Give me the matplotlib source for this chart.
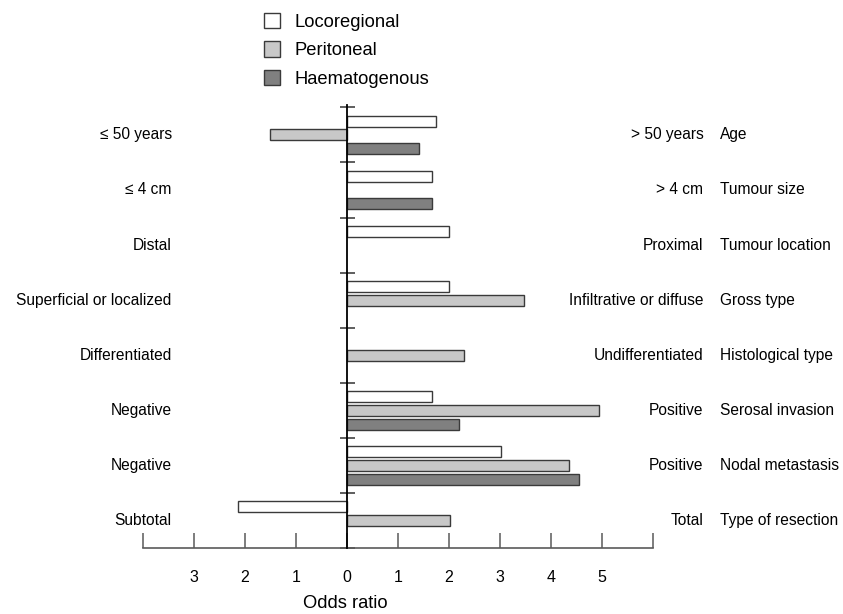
import numpy as np
import matplotlib
matplotlib.use("Agg")
import matplotlib.pyplot as plt
from matplotlib.transforms import blended_transform_factory

plt.rcParams['font.family'] = ['Liberation Sans', 'DejaVu Sans']

# ---- data ----
features = ["Age", "Tumour size", "Tumour location", "Gross type",
            "Histological type", "Serosal invasion", "Nodal metastasis",
            "Type of resection"]
left_labels = ["\u2264 50 years", "\u2264 4 cm", "Distal", "Superficial or localized",
               "Differentiated", "Negative", "Negative", "Subtotal"]
right_labels = ["> 50 years", "> 4 cm", "Proximal", "Infiltrative or diffuse",
                "Undifferentiated", "Positive", "Positive", "Total"]
series_names = ["Locoregional", "Peritoneal", "Haematogenous"]
locoregional = [1.74, 1.67, 2.00, 1.99, None, 1.67, 3.02, -2.14]
peritoneal = [-1.51, None, None, 3.46, 2.29, 4.94, 4.34, 2.02]
haematogenous = [1.41, 1.66, None, None, None, 2.20, 4.54, None]
tick_values = [-4, -3, -2, -1, 0, 1, 2, 3, 4, 5, 6]
tick_labels = ["", "3", "2", "1", "0", "1", "2", "3", "4", "5", ""]

# ---- figure ----
W, H = 843, 614
fig = plt.figure(figsize=(W / 100, H / 100), dpi=100)
x0_px, x1_px = 142.7, 653.3
ytop_px, ybot_px = 105.0, 548.3
grp_px = (548.3 - 107.3) / 8
ytop_data = -(107.3 - ytop_px) / grp_px
ax = fig.add_axes([x0_px / W, 1 - ybot_px / H, (x1_px - x0_px) / W, (ybot_px - ytop_px) / H])
ax.set_xlim(-4, 6)
ax.set_ylim(8, ytop_data)

colors = ["#ffffff", "#c8c8c8", "#808080"]
edge = "#3a3a3a"
offsets = [-0.25, 0.0, 0.25]
bar_h = 0.2
centers = np.arange(len(features)) + 0.5
handles = []
for vals, col, off, name in zip([locoregional, peritoneal, haematogenous], colors, offsets, series_names):
    ys = [c + off for c, v in zip(centers, vals) if v is not None]
    ws = [v for v in vals if v is not None]
    b = ax.barh(ys, ws, height=bar_h, left=0, color=col, edgecolor=edge, linewidth=1.0, zorder=2)
    handles.append(b)

# spines
for s in ["top", "right"]:
    ax.spines[s].set_visible(False)
ax.spines["left"].set_position(("data", 0))
ax.spines["left"].set_color("black")
ax.spines["left"].set_linewidth(1.3)
ax.spines["left"].set_zorder(3)
ax.spines["bottom"].set_color("#5a5a5a")
ax.spines["bottom"].set_linewidth(1.2)

ax.set_yticks(np.arange(0, len(features) + 1))
ax.set_yticklabels([])
ax.tick_params(axis="y", direction="inout", length=10.8, width=1.1, color="#333333")

ax.set_xticks(tick_values)
ax.set_xticklabels(tick_labels)
ax.tick_params(axis="x", direction="in", length=10.8, width=1.1, color="#5a5a5a",
               pad=15.5, labelsize=11.5, labelcolor="black")

# category labels
tr = blended_transform_factory(fig.transFigure, ax.transData)
for c, ll, rl, ft in zip(centers, left_labels, right_labels, features):
    ax.text(171.7 / W, c, ll, transform=tr, ha="right", va="center", fontsize=11.2)
    ax.text(703.3 / W, c, rl, transform=tr, ha="right", va="center", fontsize=11.2)
    ax.text(720.0 / W, c, ft, transform=tr, ha="left", va="center", fontsize=11.2)

fig.text(345.5 / W, 1 - 604.0 / H, "Odds ratio", ha="center", va="center", fontsize=13.2)

leg = fig.legend(handles, series_names, loc="upper left",
                 bbox_to_anchor=(251 / W, 1.0), frameon=False,
                 fontsize=13.2, handlelength=0.9, handleheight=0.9,
                 handletextpad=0.75, labelspacing=0.575, borderpad=0.2)

fig.savefig("out.png", dpi=100)
